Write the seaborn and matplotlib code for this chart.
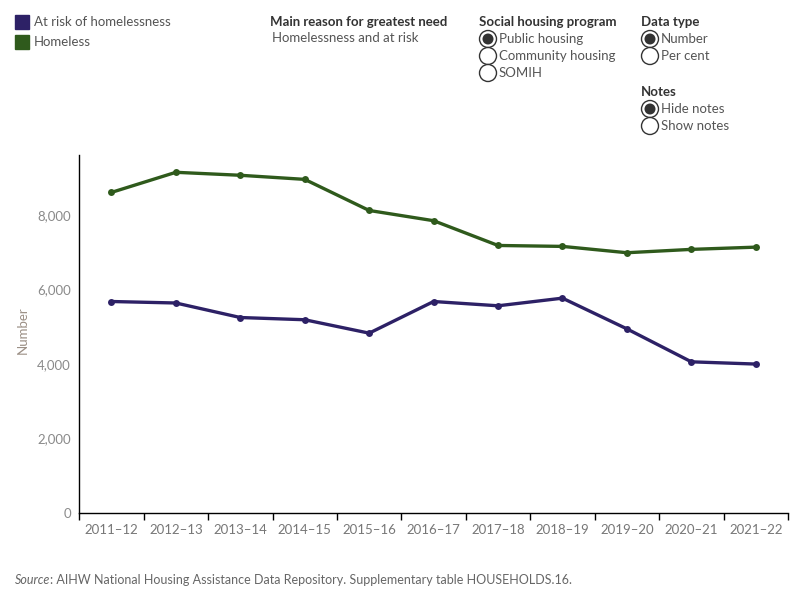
import pandas as pd
import matplotlib.pyplot as plt
import seaborn as sns
from matplotlib.patches import Circle, Rectangle

# Data (public housing, number of households)
years = ['2011–12', '2012–13', '2013–14', '2014–15', '2015–16', '2016–17',
         '2017–18', '2018–19', '2019–20', '2020–21', '2021–22']
at_risk = [5680, 5640, 5250, 5190, 4830, 5680, 5565, 5770, 4945, 4060, 4000]
homeless = [8610, 9150, 9070, 8960, 8125, 7850, 7185, 7160, 6990, 7080, 7140]
series_names = ['At risk of homelessness', 'Homeless']
series_colors = ['#2d2166', '#2f5a1c']

df = pd.DataFrame({
    'year': years * 2,
    'value': at_risk + homeless,
    'group': [series_names[0]] * len(years) + [series_names[1]] * len(years),
})

sns.set_style('white')
plt.rcParams['font.family'] = ['Lato', 'DejaVu Sans']

fig = plt.figure(figsize=(8, 6), dpi=100)
ax = fig.add_axes([0.099, 0.145, 0.886, 0.597])

sns.lineplot(data=df, x='year', y='value', hue='group', palette=series_colors,
             marker='o', markersize=5, markeredgewidth=0, linewidth=2.4,
             legend=False, ax=ax, sort=False)

ax.set_xlim(-0.5, len(years) - 0.5)
ax.set_ylim(0, 9620)
ax.set_yticks([0, 2000, 4000, 6000, 8000])
ax.set_yticklabels(['0', '2,000', '4,000', '6,000', '8,000'])
ax.set_xticks(range(len(years)))
ax.set_xticklabels(years)
ax.set_xticks([i - 0.5 for i in range(len(years) + 1)], minor=True)
ax.tick_params(axis='x', which='major', length=0, pad=8, labelsize=9.5, colors='#777777')
ax.tick_params(axis='x', which='minor', length=5, width=1, color='black', bottom=True)
ax.tick_params(axis='y', length=0, pad=6, labelsize=9.5, colors='#8a8a8a')
ax.set_xlabel('')
ax.set_ylabel('')
fig.text(23 / 800, 1 - 330 / 600, 'Number', rotation=90, color='#9b8f85',
         fontsize=9.5, ha='center', va='center')

sns.despine(ax=ax)
for s in ['left', 'bottom']:
    ax.spines[s].set_color('black')
    ax.spines[s].set_linewidth(1)

# Colour legend
for i, (name, col) in enumerate(zip(series_names, series_colors)):
    y = 1 - (22 + 20 * i) / 600
    fig.patches.append(Rectangle((15 / 800, y - 7 / 600), 14 / 800, 14 / 600,
                                 transform=fig.transFigure, color=col))
    fig.text(34 / 800, y, name, fontsize=9.5, color='#555555', va='center')

# Filter panel texts
def header(x, y, text):
    fig.text(x / 800, 1 - y / 600, text, fontsize=9.5, fontweight='bold',
             color='#333333', va='center')

def radio(x, y, text, selected):
    cx, cy = x + 8, 600 - y
    fig.patches.append(Circle((cx, cy), 8.5, transform=None,
                              facecolor='white', edgecolor='#333333', lw=1))
    if selected:
        fig.patches.append(Circle((cx, cy), 5.5, transform=None,
                                  facecolor='#333333', edgecolor='none'))
    fig.text((x + 19) / 800, cy / 600, text, fontsize=9.5, color='#555555', va='center')

header(270, 22, 'Main reason for greatest need')
fig.text(272 / 800, 1 - 38 / 600, 'Homelessness and at risk', fontsize=9.5,
         color='#555555', va='center')

header(479, 22, 'Social housing program')
radio(480, 39, 'Public housing', True)
radio(480, 56, 'Community housing', False)
radio(480, 73, 'SOMIH', False)

header(641, 22, 'Data type')
radio(642, 39, 'Number', True)
radio(642, 56, 'Per cent', False)

header(641, 92, 'Notes')
radio(642, 109, 'Hide notes', True)
radio(642, 126, 'Show notes', False)

# Source note: italic word followed by the rest of the line
src = fig.text(15 / 800, 1 - 580 / 600, 'Source', fontsize=9, style='italic',
               color='#666666', va='center')
fig.canvas.draw()
bb = src.get_window_extent()
fig.text(bb.x1 / 800, 1 - 580 / 600, ': AIHW National Housing Assistance Data Repository. '
         'Supplementary table HOUSEHOLDS.16.', fontsize=9, color='#666666', va='center')

fig.savefig('out.png', dpi=100)
